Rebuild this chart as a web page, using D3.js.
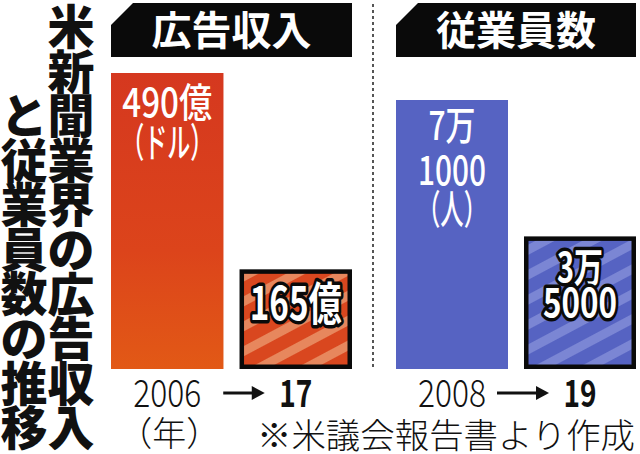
<!DOCTYPE html>
<html>
<head>
<meta charset="utf-8">
<script src="https://cdn.jsdelivr.net/npm/d3@7"></script>
<style>
	html, body { margin: 0; padding: 0; background: #fff; }
	svg { display: block; }
</style>
</head>
<body>
<svg id="chart" width="640" height="454"></svg>
<script>
/* Data */
const titleRight = '米新聞業界の広告収入';
const titleLeft = 'と従業員数の推移';

const adYears = ['2006', '17'];
const adValues = [490, 165];
const adLabels = [['490億', '（ドル）'], ['165億']];

const staffYears = ['2008', '19'];
const staffValues = [71000, 35000];
const staffLabels = [['7万', '1000', '（人）'], ['3万', '5000']];

const panelTitles = ['広告収入', '従業員数'];
const yearUnit = '（年）';
const sourceNote = '※米議会報告書より作成';

/* Layout */
const JP = '"Noto Sans CJK JP", "Noto Sans", sans-serif';
const svg = d3.select('#chart').style('font-family', JP);
const baseY = 369;
const defs = svg.append('defs');

// gradient for the big red bar
const grad = defs.append('linearGradient').attr('id', 'redGrad')
	.attr('x1', 0).attr('y1', 0).attr('x2', 0).attr('y2', 1);
grad.append('stop').attr('offset', '0%').attr('stop-color', '#d5381f');
grad.append('stop').attr('offset', '60%').attr('stop-color', '#dc441b');
grad.append('stop').attr('offset', '100%').attr('stop-color', '#e25916');

// diagonal stripes for the latest-year boxes
function stripes(id, base, light) {
	const p = defs.append('pattern').attr('id', id)
		.attr('patternUnits', 'userSpaceOnUse')
		.attr('width', 22).attr('height', 22)
		.attr('patternTransform', 'rotate(-28)');
	p.append('rect').attr('width', 22).attr('height', 22).attr('fill', base);
	p.append('rect').attr('width', 22).attr('height', 9).attr('y', 2).attr('fill', light);
}
stripes('redStripe', '#d9471f', '#e7875d');
stripes('blueStripe', '#5663c2', '#7b86d4');

// vertical title, one glyph per step
function column(str, cx, top) {
	svg.append('g').selectAll('text').data(str.split('')).join('text')
		.attr('x', cx)
		.attr('y', (d, i) => top + 40 + i * 44.6)
		.attr('text-anchor', 'middle')
		.attr('font-size', 47)
		.attr('font-weight', 900)
		.attr('fill', '#111')
		.text(d => d);
}
column(titleRight, 71, 4);
column(titleLeft, 24, 93);

// dotted separator
svg.append('line')
	.attr('x1', 373).attr('x2', 373).attr('y1', 4).attr('y2', 368)
	.attr('stroke', '#555').attr('stroke-width', 2)
	.attr('stroke-dasharray', '3 3');

function panel(opts) {
	const x = d3.scaleBand().domain(opts.years).range(opts.range).paddingInner(0.125);
	const y = d3.scaleLinear().domain([0, opts.max]).range([baseY, opts.top]);
	const bw = x.bandwidth();
	const g = svg.append('g');

	// header with clipped corner
	const x0 = opts.range[0], x1 = opts.range[1];
	g.append('path')
		.attr('d', `M${x0},57 L${x0},25 L${x0 + 22},3 L${x1},3 L${x1},57 Z`)
		.attr('fill', '#0a0a0a');
	g.append('text')
		.attr('x', (x0 + x1) / 2).attr('y', 45)
		.attr('text-anchor', 'middle')
		.attr('font-size', 40).attr('font-weight', 700)
		.attr('fill', '#fff')
		.text(opts.title);

	// first year: plain bar
	const a = opts.years[0], b = opts.years[1];
	g.append('rect')
		.attr('x', x(a)).attr('y', y(opts.values[0]))
		.attr('width', bw).attr('height', baseY - y(opts.values[0]))
		.attr('fill', opts.fill);

	// latest year: outlined striped box
	g.append('rect')
		.attr('x', x(b) + 2.25).attr('y', y(opts.values[1]) + 2.25)
		.attr('width', bw - 4.5).attr('height', baseY - y(opts.values[1]) - 4.5)
		.attr('fill', opts.stripe)
		.attr('stroke', '#0a0a0a').attr('stroke-width', 4.5);

	// labels inside bars
	opts.labels[0].forEach((t, i) => {
		g.append('text')
			.attr('x', x(a) + bw / 2)
			.attr('y', y(opts.values[0]) + opts.lineTop[i])
			.attr('text-anchor', 'middle')
			.attr('font-size', 40).attr('font-weight', 500)
			.attr('fill', '#fff')
			.attr('textLength', opts.lineW[i]).attr('lengthAdjust', 'spacingAndGlyphs')
			.text(t);
	});
	opts.labels[1].forEach((t, i) => {
		g.append('text')
			.attr('x', x(b) + bw / 2)
			.attr('y', y(opts.values[1]) + opts.boxTop[i])
			.attr('text-anchor', 'middle')
			.attr('font-size', opts.boxSize).attr('font-weight', 700)
			.attr('fill', '#fff')
			.attr('stroke', '#0a0a0a').attr('stroke-width', 7)
			.attr('stroke-linejoin', 'round')
			.attr('paint-order', 'stroke')
			.attr('textLength', opts.boxW[i]).attr('lengthAdjust', 'spacingAndGlyphs')
			.text(t);
	});

	// year labels and arrow
	const c0 = x(a) + bw / 2, c1 = x(b) + bw / 2;
	g.append('text')
		.attr('x', c0).attr('y', 407)
		.attr('text-anchor', 'middle')
		.attr('font-size', 38).attr('font-weight', 300)
		.attr('fill', '#111')
		.attr('textLength', 68).attr('lengthAdjust', 'spacingAndGlyphs')
		.text(a);
	g.append('text')
		.attr('x', c1).attr('y', 407)
		.attr('text-anchor', 'middle')
		.attr('font-size', 38).attr('font-weight', 700)
		.attr('fill', '#111')
		.attr('textLength', 33).attr('lengthAdjust', 'spacingAndGlyphs')
		.text(b);
	const ax0 = c0 + opts.arrow[0], ax1 = c1 - 31;
	g.append('line')
		.attr('x1', ax0).attr('x2', ax1 - 10).attr('y1', 393).attr('y2', 393)
		.attr('stroke', '#111').attr('stroke-width', 3);
	g.append('path')
		.attr('d', `M${ax1},393 L${ax1 - 13},386 L${ax1 - 13},400 Z`)
		.attr('fill', '#111');

	return { x, c0 };
}

const left = panel({
	years: adYears, values: adValues, labels: adLabels, max: 490,
	range: [111, 352], top: 73, title: panelTitles[0],
	fill: 'url(#redGrad)', stripe: 'url(#redStripe)',
	lineTop: [44, 84], lineW: [90, 92],
	boxTop: [51], boxW: [92], boxSize: 46,
	arrow: [56]
});
const right = panel({
	years: staffYears, values: staffValues, labels: staffLabels, max: 71000,
	range: [396, 636], top: 100, title: panelTitles[1],
	fill: '#5663c2', stripe: 'url(#blueStripe)',
	lineTop: [40, 85, 124], lineW: [47, 68, 70],
	boxTop: [46, 81], boxW: [46, 74], boxSize: 40,
	arrow: [45]
});

// unit and source
svg.append('text')
	.attr('x', left.c0 + 2).attr('y', 446)
	.attr('text-anchor', 'middle')
	.attr('font-size', 34).attr('font-weight', 300)
	.attr('fill', '#111')
	.text(yearUnit);
svg.append('text')
	.attr('x', 257).attr('y', 448)
	.attr('font-size', 34).attr('font-weight', 300)
	.attr('fill', '#111')
	.attr('textLength', 378).attr('lengthAdjust', 'spacingAndGlyphs')
	.text(sourceNote);
</script>
</body>
</html>
